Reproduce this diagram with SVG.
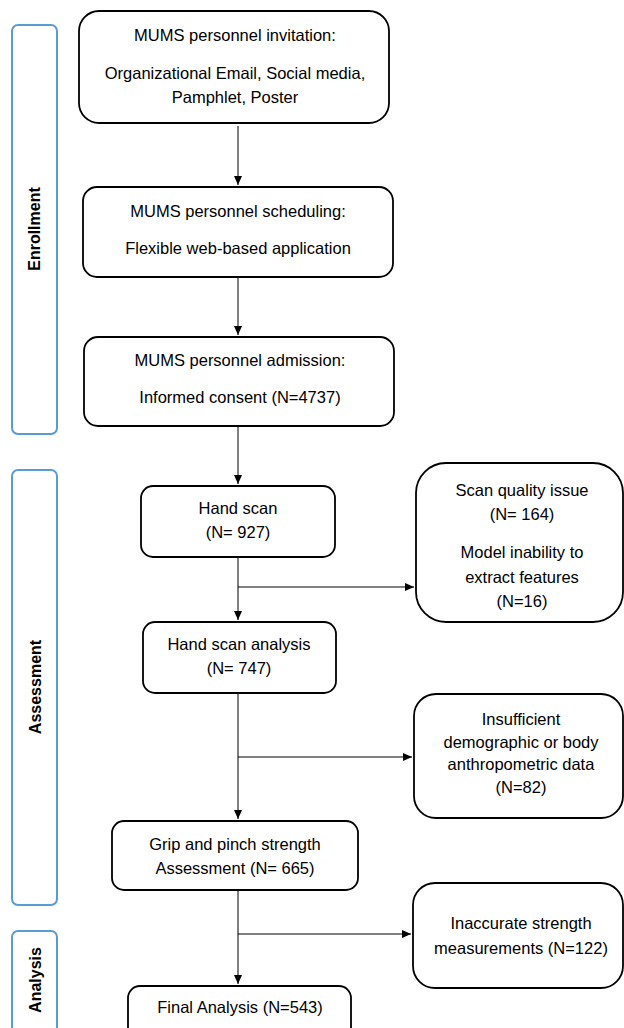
<svg xmlns="http://www.w3.org/2000/svg" width="624" height="1028" viewBox="0 0 624 1028">
<style>
.box{fill:#fff;stroke:#000;stroke-width:1.8}
.phase{fill:none;stroke:#5B9BD5;stroke-width:2}
.t{font-family:"Liberation Sans",Arial,sans-serif;font-size:16.5px;fill:#000;text-anchor:middle}
.pl{font-family:"Liberation Sans",Arial,sans-serif;font-size:16px;font-weight:bold;fill:#000;text-anchor:middle}
.c{fill:none;stroke:#000;stroke-width:1}
</style>
<defs>
<marker id="ah" markerWidth="10" markerHeight="10" refX="9" refY="5" orient="auto" markerUnits="userSpaceOnUse">
<path d="M0,1 L9,5 L0,9 Z" fill="#000"/>
</marker>
</defs>
<rect width="624" height="1028" fill="#fff"/>
<g id="phase-enrollment">
<rect class="phase" x="12" y="25" width="45" height="409" rx="6"/>
<text class="pl" transform="translate(40,229) rotate(-90)">Enrollment</text>
</g>
<g id="phase-assessment">
<rect class="phase" x="12" y="470" width="45" height="435" rx="6"/>
<text class="pl" transform="translate(41,687) rotate(-90)">Assessment</text>
</g>
<g id="phase-analysis">
<rect class="phase" x="12" y="931" width="45" height="110" rx="6"/>
<text class="pl" transform="translate(41,980) rotate(-90)">Analysis</text>
</g>
<g id="invitation">
<rect class="box" x="79" y="11" width="310" height="112" rx="20"/>
<text class="t" x="235" y="41">MUMS personnel invitation:</text>
<text class="t" x="235" y="79">Organizational Email, Social media,</text>
<text class="t" x="235" y="103">Pamphlet, Poster</text>
</g>
<g id="scheduling">
<rect class="box" x="83" y="187" width="310" height="90" rx="14"/>
<text class="t" x="238" y="217">MUMS personnel scheduling:</text>
<text class="t" x="238" y="254">Flexible web-based application</text>
</g>
<g id="admission">
<rect class="box" x="84" y="337" width="310" height="89" rx="14"/>
<text class="t" x="240" y="366">MUMS personnel admission:</text>
<text class="t" x="240" y="403">Informed consent (N=4737)</text>
</g>
<g id="handscan">
<rect class="box" x="141" y="486" width="194" height="71" rx="12"/>
<text class="t" x="238" y="514">Hand scan</text>
<text class="t" x="238" y="538">(N= 927)</text>
</g>
<g id="scanissue">
<rect class="box" x="416" y="463" width="207" height="159" rx="30"/>
<text class="t" x="522" y="496">Scan quality issue</text>
<text class="t" x="522" y="520">(N= 164)</text>
<text class="t" x="522" y="558">Model inability to</text>
<text class="t" x="522" y="583">extract features</text>
<text class="t" x="522" y="607">(N=16)</text>
</g>
<g id="analysis">
<rect class="box" x="143" y="622" width="193" height="71" rx="12"/>
<text class="t" x="239" y="650">Hand scan analysis</text>
<text class="t" x="239" y="674">(N= 747)</text>
</g>
<g id="insufficient">
<rect class="box" x="414" y="694" width="209" height="124" rx="22"/>
<text class="t" x="521" y="725">Insufficient</text>
<text class="t" x="521" y="748">demographic or body</text>
<text class="t" x="521" y="770">anthropometric data</text>
<text class="t" x="521" y="793">(N=82)</text>
</g>
<g id="grip">
<rect class="box" x="112" y="821" width="246" height="69" rx="12"/>
<text class="t" x="235" y="850">Grip and pinch strength</text>
<text class="t" x="235" y="874">Assessment (N= 665)</text>
</g>
<g id="inaccurate">
<rect class="box" x="413" y="883" width="210" height="105" rx="22"/>
<text class="t" x="521" y="929">Inaccurate strength</text>
<text class="t" x="521" y="954">measurements (N=122)</text>
</g>
<g id="final">
<rect class="box" x="128" y="986" width="223" height="60" rx="12"/>
<text class="t" x="240" y="1013">Final Analysis (N=543)</text>
</g>
<g id="connectors">
<line class="c" x1="238" y1="126" x2="238" y2="185" marker-end="url(#ah)"/>
<line class="c" x1="238" y1="277" x2="238" y2="335" marker-end="url(#ah)"/>
<line class="c" x1="238" y1="426" x2="238" y2="484" marker-end="url(#ah)"/>
<line class="c" x1="238" y1="557" x2="238" y2="620" marker-end="url(#ah)"/>
<line class="c" x1="238" y1="587" x2="414" y2="587" marker-end="url(#ah)"/>
<line class="c" x1="238" y1="693" x2="238" y2="819" marker-end="url(#ah)"/>
<line class="c" x1="238" y1="757" x2="412" y2="757" marker-end="url(#ah)"/>
<line class="c" x1="238" y1="890" x2="238" y2="984" marker-end="url(#ah)"/>
<line class="c" x1="238" y1="934" x2="411" y2="934" marker-end="url(#ah)"/>
</g>
</svg>
